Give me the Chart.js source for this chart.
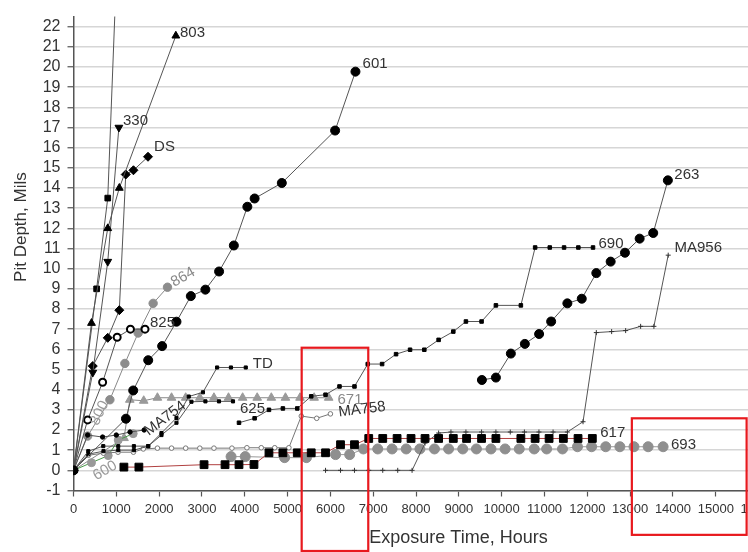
<!DOCTYPE html>
<html>
<head>
<meta charset="utf-8">
<script src="https://cdn.jsdelivr.net/npm/chart.js@4.4.1/dist/chart.umd.min.js"></script>
<style>
html, body { margin: 0; padding: 0; overflow: hidden; background: #fff; }
#wrap { width: 748px; height: 552px; overflow: hidden; }
</style>
</head>
<body>
<div id="wrap"><canvas id="pitChart" width="800" height="552"></canvas></div>
<script>
// pit depth (mils) vs exposure time (hours), one pair of arrays per curve
const hoursSteep = [0, 540, 800, 1000];
const depthSteep = [0, 9, 13.5, 24.5];

const hours803 = [0, 420, 800, 1070, 2390];
const depth803 = [0, 7.3, 12, 14, 21.55];

const hours330 = [0, 450, 800, 1060];
const depth330 = [0, 4.85, 10.35, 17];

const hoursDS = [0, 450, 800, 1070, 1220, 1400, 1740];
const depthDS = [0, 5.17, 6.57, 7.94, 14.67, 14.88, 15.55];

const hours601 = [0, 1225, 1395, 1745, 2070, 2405, 2740, 3080, 3400, 3745, 4060, 4230, 4865, 6110, 6585];
const depth601 = [0, 2.56, 3.96, 5.46, 6.16, 7.37, 8.64, 8.96, 9.86, 11.15, 13.07, 13.48, 14.25, 16.85, 19.77];

const hours864 = [0, 330, 850, 1200, 1510, 1860, 2195];
const depth864 = [0, 1.7, 3.5, 5.3, 6.81, 8.28, 9.08];

const hours825 = [0, 330, 680, 1020, 1330, 1670];
const depth825 = [0, 2.5, 4.37, 6.6, 7.0, 7.0];

const hoursTD = [0, 345, 695, 1045, 1410, 1745, 2055, 2405, 2692, 3023, 3354, 3677, 4023];
const depthTD = [0, 0.95, 1.2, 1.2, 1.2, 1.2, 1.85, 2.6, 3.66, 3.87, 5.1, 5.1, 5.1];

const hours625 = [0, 345, 700, 1045, 1410, 1745, 2055, 2405, 2755, 3081, 3398, 3725];
const depth625 = [0, 0.8, 0.95, 1.0, 1.0, 1.2, 1.75, 2.36, 3.4, 3.42, 3.42, 3.42];

const hoursMA754 = [0, 330, 680, 1000, 1320, 1650];
const depthMA754 = [0, 1.75, 1.65, 1.75, 1.9, 2.0];

const hours671 = [0, 1180, 1315, 1640, 1960, 2290, 2620, 2950, 3280, 3620, 3950, 4290, 4620, 4950, 5290, 5620, 5960];
const depth671 = [0, 1.6, 3.5, 3.45, 3.6, 3.6, 3.6, 3.6, 3.6, 3.6, 3.6, 3.6, 3.6, 3.6, 3.6, 3.6, 3.6];

const hoursMA758 = [0, 350, 700, 1040, 1400, 1630, 1960, 2290, 2620, 2950, 3280, 3700, 4050, 4385, 4700, 5030, 5320, 5680, 6000];
const depthMA758 = [0, 0.75, 0.85, 0.9, 0.9, 1.06, 1.1, 1.1, 1.1, 1.1, 1.1, 1.1, 1.12, 1.12, 1.12, 1.12, 2.69, 2.58, 2.8];

const hours617 = [1177, 1527, 3049, 3539, 3865, 4215, 4565, 4890, 5226, 5552, 5886, 6236, 6562, 6895, 7222, 7557, 7883, 8210, 8527, 8870, 9180, 9530, 9865, 10448, 10781, 11107, 11440, 11783, 12117];
const depth617 = [0.16, 0.16, 0.28, 0.28, 0.28, 0.29, 0.87, 0.87, 0.87, 0.87, 0.87, 1.27, 1.27, 1.58, 1.58, 1.58, 1.58, 1.58, 1.58, 1.58, 1.58, 1.58, 1.58, 1.58, 1.58, 1.58, 1.58, 1.58, 1.58];

const hours693 = [3680, 4010, 4930, 5440, 6120, 6450, 6770, 7105, 7440, 7770, 8090, 8430, 8760, 9090, 9410, 9750, 10080, 10410, 10760, 11050, 11420, 11770, 12100, 12430, 12760, 13090, 13420, 13770];
const depth693 = [0.68, 0.68, 0.63, 0.63, 0.78, 0.78, 1.06, 1.06, 1.06, 1.06, 1.06, 1.06, 1.06, 1.06, 1.06, 1.06, 1.06, 1.06, 1.06, 1.06, 1.06, 1.17, 1.17, 1.17, 1.17, 1.17, 1.17, 1.17];

const hours600 = [0, 420, 810, 1045, 1394];
const depth600 = [0, 0.38, 0.73, 1.5, 1.82];

const hours690 = [3865, 4230, 4565, 4890, 5226, 5552, 5886, 6212, 6562, 6872, 7207, 7533, 7860, 8193, 8527, 8870, 9165, 9530, 9865, 10448, 10781, 11123, 11457, 11790, 12133];
const depth690 = [2.36, 2.58, 3.0, 3.07, 3.07, 3.67, 3.75, 4.16, 4.16, 5.27, 5.27, 5.76, 5.98, 5.98, 6.47, 6.88, 7.38, 7.38, 8.18, 8.18, 11.05, 11.05, 11.05, 11.05, 11.05];

const hours263 = [9538, 9865, 10214, 10541, 10874, 11155, 11534, 11870, 12210, 12545, 12879, 13222, 13539, 13881];
const depth263 = [4.48, 4.6, 5.79, 6.27, 6.76, 7.38, 8.28, 8.51, 9.78, 10.35, 10.79, 11.49, 11.77, 14.38];

const hoursMA956 = [5886, 6236, 6562, 6895, 7222, 7572, 7907, 8210, 8527, 8815, 9165, 9530, 9865, 10200, 10530, 10870, 11200, 11534, 11900, 12210, 12568, 12895, 13245, 13555, 13889];
const depthMA956 = [0, 0, 0, 0, 0, 0, 0, 1.35, 1.85, 1.9, 1.9, 1.9, 1.9, 1.9, 1.9, 1.9, 1.9, 1.9, 2.41, 6.83, 6.88, 6.93, 7.14, 7.14, 10.67];

// axis ticks
const hourTicks = [0, 1000, 2000, 3000, 4000, 5000, 6000, 7000, 8000, 9000, 10000, 11000, 12000, 13000, 14000, 15000, 16000];
const depthTicks = [-1, 0, 1, 2, 3, 4, 5, 6, 7, 8, 9, 10, 11, 12, 13, 14, 15, 16, 17, 18, 19, 20, 21, 22];

// red review boxes, in data units [x0, x1, yTop, yBottom]
const reviewBoxes = [[5329, 6884, 6.08, -4], [13040, 15720, 2.58, -3.2]];

const FONT = "'Liberation Sans', Arial, sans-serif";
const LINE = '#555';

function pts(hours, depth) {
    return hours.map((h, i) => ({ x: h, y: depth[i] }));
}

function curve(label, hours, depth, style) {
    return Object.assign({
        label: label,
        data: pts(hours, depth),
        showLine: true,
        borderColor: LINE,
        borderWidth: 1,
        pointStyle: 'circle',
        pointRadius: 3,
        pointBackgroundColor: '#000',
        pointBorderColor: '#000',
        pointBorderWidth: 1,
        tension: 0
    }, style || {});
}

const datasets = [
    curve('617', hours617, depth617, { borderColor: '#b04040', pointStyle: 'rect', pointRadius: 5.5 }),
    curve('690', hours690, depth690, { pointStyle: 'rect', pointRadius: 2.5 }),
    curve('263', hours263, depth263, { pointRadius: 4.5 }),
    curve('MA956', hoursMA956, depthMA956, { pointStyle: 'cross', pointRadius: 2.5, pointBorderColor: '#333' }),
    curve('601', hours601, depth601, { pointRadius: 4.5 }),
    curve('803', hours803, depth803, { pointStyle: 'triangle', pointRadius: 4.5 }),
    curve('330', hours330, depth330, { pointStyle: 'triangle', pointRotation: 180, pointRadius: 4.5 }),
    curve('DS', hoursDS, depthDS, { pointStyle: 'rectRot', pointRadius: 4.5 }),
    curve('', hoursSteep, depthSteep, { pointStyle: 'rect', pointRadius: 4 }),
    curve('825', hours825, depth825, { pointRadius: 3.5, pointBackgroundColor: '#fff', pointBorderWidth: 2 }),
    curve('TD', hoursTD, depthTD, { pointStyle: 'rect', pointRadius: 2.2 }),
    curve('625', hours625, depth625, { pointStyle: 'rect', pointRadius: 2.2 }),
    curve('MA754', hoursMA754, depthMA754, { pointRadius: 2.2 }),
    curve('MA758', hoursMA758, depthMA758, { borderColor: '#777', pointRadius: 2.3, pointBackgroundColor: '#fff', pointBorderColor: '#777' }),
    curve('864', hours864, depth864, { borderColor: '#888', pointRadius: 4.2, pointBackgroundColor: '#8c8c8c', pointBorderColor: '#8c8c8c' }),
    curve('600', hours600, depth600, { borderColor: '#4a9a4a', pointRadius: 4, pointBackgroundColor: '#999', pointBorderColor: '#999' }),
    curve('671', hours671, depth671, { borderColor: '#888', pointStyle: 'triangle', pointRadius: 5, pointBackgroundColor: '#9a9a9a', pointBorderColor: '#9a9a9a' }),
    curve('693', hours693, depth693, { borderColor: '#999', pointRadius: 5, pointBackgroundColor: '#8f8f8f', pointBorderColor: '#8f8f8f' })
];

// curve names, offset from the end point (or point "at") in pixels
const curveLabels = [
    { text: '803', dx: 16.7, dy: -2.6 },
    { text: '330', dx: 16.6, dy: -6.4 },
    { text: 'DS', dx: 16.5, dy: -9.5 },
    { text: '601', dx: 19.6, dy: -7.7 },
    { text: '263', dx: 19, dy: -5.6 },
    { text: '690', dx: 18, dy: -3.7 },
    { text: 'MA956', dx: 30, dy: -7 },
    { text: '617', dx: 20.4, dy: -5.8 },
    { text: '693', dx: 20.4, dy: -2.3 },
    { text: 'TD', dx: 17, dy: -3.2 },
    { text: '671', dx: 21.3, dy: 2.3, color: '#888' },
    { text: '625', dx: 19.5, dy: 7.4 },
    { text: 'MA758', dx: 31.6, dy: -4.4, rot: -7 },
    { text: '825', dx: 17.5, dy: -6 },
    { text: '864', dx: 15.5, dy: -10, rot: -30, color: '#888' },
    { text: '800', series: '864', at: 1, dx: 12, dy: -23, rot: -65, color: '#999' },
    { text: '600', at: 1, dx: 13.5, dy: 8, rot: -30, color: '#999' },
    { text: 'MA754', dx: 21, dy: -11.6, rot: -37 }
];

const overlay = {
    id: 'overlay',
    afterDraw(chart) {
        const { ctx, chartArea, scales: { x, y } } = chart;
        ctx.save();
        ctx.textAlign = 'center';
        ctx.textBaseline = 'middle';
        ctx.font = '15px ' + FONT;
        curveLabels.forEach(l => {
            const ds = chart.data.datasets.find(d => d.label === (l.series || l.text));
            const p = ds.data[l.at !== undefined ? l.at : ds.data.length - 1];
            ctx.save();
            ctx.translate(x.getPixelForValue(p.x) + l.dx, y.getPixelForValue(p.y) + l.dy);
            if (l.rot) ctx.rotate(l.rot * Math.PI / 180);
            ctx.fillStyle = l.color || '#333';
            ctx.fillText(l.text, 0, 0);
            ctx.restore();
        });

        // axis titles
        ctx.fillStyle = '#333';
        ctx.font = '18px ' + FONT;
        ctx.fillText('Exposure Time, Hours', chartArea.left + 385, chartArea.bottom + 47.5);
        ctx.save();
        ctx.translate(21, chartArea.top + 210.5);
        ctx.rotate(-Math.PI / 2);
        ctx.font = '17px ' + FONT;
        ctx.fillText('Pit Depth, Mils', 0, 0);
        ctx.restore();

        ctx.strokeStyle = '#e8191e';
        ctx.lineWidth = 2.2;
        reviewBoxes.forEach(b => {
            const x0 = x.getPixelForValue(b[0]), x1 = x.getPixelForValue(b[1]);
            const y0 = y.getPixelForValue(b[2]), y1 = y.getPixelForValue(b[3]);
            ctx.strokeRect(x0, y0, x1 - x0, y1 - y0);
        });
        ctx.restore();
    }
};

new Chart(document.getElementById('pitChart'), {
    type: 'scatter',
    data: { datasets: datasets },
    options: {
        responsive: false,
        animation: false,
        events: [],
        layout: { padding: { top: 10, right: 41.4, left: 0, bottom: 0 } },
        plugins: { legend: { display: false }, tooltip: { enabled: false } },
        scales: {
            x: {
                type: 'linear',
                min: hourTicks[0],
                max: hourTicks[hourTicks.length - 1],
                afterFit: s => { s.height = 61.5; },
                afterBuildTicks: s => { s.ticks = hourTicks.map(v => ({ value: v })); },
                ticks: {
                    autoSkip: false, maxRotation: 0, padding: 5, color: '#333',
                    font: { family: "'Liberation Sans Narrow', " + FONT, size: 13 },
                    callback: v => String(v)
                },
                grid: { drawOnChartArea: false, tickLength: 6, tickColor: LINE, tickWidth: 1.2 },
                border: { color: LINE, width: 1.5 }
            },
            y: {
                type: 'linear',
                min: -1,
                max: 22.5,
                afterFit: s => { s.width = 73.5; },
                afterBuildTicks: s => { s.ticks = depthTicks.map(v => ({ value: v })); },
                ticks: { autoSkip: false, padding: 7, color: '#333', font: { family: FONT, size: 16 } },
                grid: { color: '#d6d6d6', lineWidth: 1.5, tickLength: 6, tickColor: LINE, tickWidth: 1.2 },
                border: { color: LINE, width: 1.5 }
            }
        }
    },
    plugins: [overlay]
});
</script>
</body>
</html>
